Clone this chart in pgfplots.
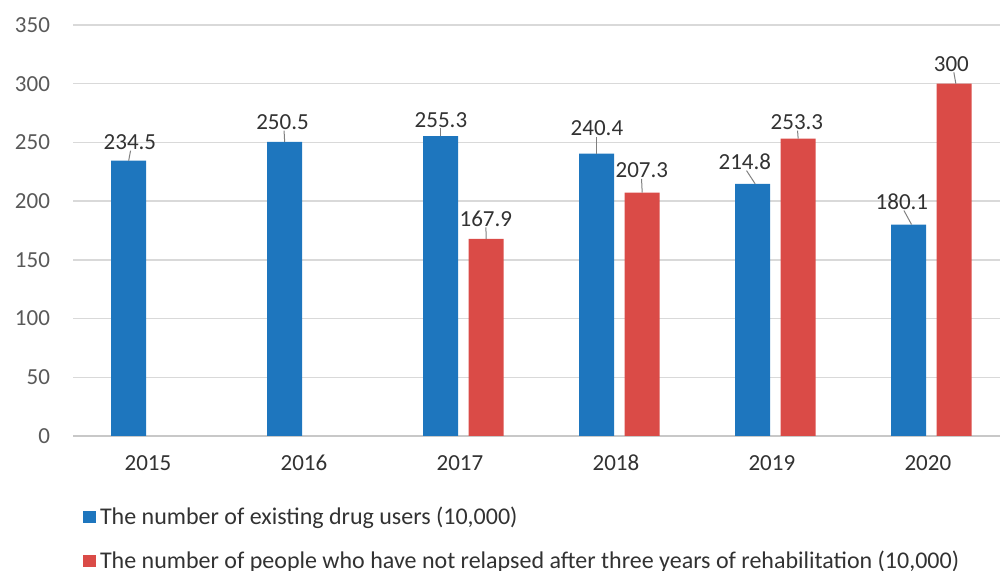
\documentclass[border=0pt]{standalone}
\usepackage{fontspec}
\setmainfont{Carlito}
\usepackage{pgfplots}
\usepackage{pgfplotstable}
\pgfplotsset{compat=1.18}
\definecolor{barblue}{RGB}{30,118,190}
\definecolor{barred}{RGB}{218,75,71}
\definecolor{gridgray}{RGB}{217,217,217}
\definecolor{axisgray}{RGB}{200,200,200}
\definecolor{ticklab}{RGB}{89,89,89}
\definecolor{lab}{RGB}{50,50,50}
\newcommand\f{\fontsize{11.5pt}{13.8pt}\selectfont}
\newcommand\fl{\fontsize{12pt}{14.4pt}\selectfont}

\pgfplotstableread{
x y
0 234.5
1 250.5
2 255.3
3 240.4
4 214.8
5 180.1
}\blue
\pgfplotstableread{
x y
2 167.9
3 207.3
4 253.3
5 300
}\red
\pgfplotstableread{
x y lab
-0.138 243.5 234.5
0.840 260.6 250.5
1.856 262.5 255.3
2.144 178.2 167.9
2.856 255.5 240.4
3.144 219.4 207.3
3.804 226.5 214.8
4.138 260.6 253.3
4.811 192.5 180.1
5.128 310.2 300
}\labels
\pgfplotstableread{
x y u v
-0.146 234.5 0.012 8.5
0.854 250.5 -0.004 9.6
1.854 255.3 0.000 6.7
2.146 167.9 -0.002 9.8
2.854 240.4 0.000 14.6
3.146 207.3 -0.004 11.6
3.870 214.8 -0.055 11.2
4.146 253.3 -0.004 6.8
4.873 180.1 -0.049 11.9
5.157 300.0 -0.013 9.7
}\leaders

\begin{document}
\begin{tikzpicture}
\useasboundingbox (-36.5pt,-67.5pt) rectangle (463.5pt,218pt);
\begin{axis}[
  at={(0,0)}, anchor=south west, scale only axis,
  width=463.5pt, height=205.5pt,
  xmin=-0.503, xmax=5.44, ymin=0, ymax=350,
  ytick={0,50,...,350},
  xtick={0,1,2,3,4,5},
  xticklabels={2015,2016,2017,2018,2019,2020},
  axis x line*=bottom, axis y line*=left,
  x axis line style={draw=axisgray, line width=0.7pt},
  y axis line style={draw=none},
  tick style={draw=none},
  ymajorgrids, grid style={draw=gridgray, line width=0.65pt},
  /pgf/number format/assume math mode=true,
  yticklabel style={font=\f, text=ticklab, xshift=-8pt},
  xticklabel style={font=\f, text=lab, yshift=-5.5pt, xshift=-1.75pt, text height=8pt, text depth=0pt},
  legend style={draw=none, fill=none, inner sep=0pt, font=\fl, text=lab,
    at={(axis description cs:0.0108,-0.162)}, anchor=north west, row sep=7.5pt},
  legend cell align=left,
  legend image code/.code={\fill[#1,draw=none] (0pt,-3.1pt) rectangle (6.3pt,3.1pt);},
]
\addplot[ybar, bar width=17.5pt, bar shift=-11.375pt, fill=barblue, draw=none] table[x=x,y=y] {\blue};
\addlegendentry{The number of existing drug users (10,000)}
\addplot[ybar, bar width=17.5pt, bar shift=11.375pt, fill=barred, draw=none] table[x=x,y=y] {\red};
\addlegendentry{The number of people who have not relapsed after three years of rehabilitation (10,000)}
\addplot[forget plot, quiver={u=\thisrow{u}, v=\thisrow{v}}, draw=gray, line width=0.5pt] table[x=x,y=y] {\leaders};
\addplot[forget plot, draw=none, mark=none, nodes near coords, point meta=explicit symbolic,
  nodes near coords style={anchor=south, inner sep=0pt, font=\f, text=lab}] table[x=x,y=y,meta=lab] {\labels};
\end{axis}
\end{tikzpicture}
\end{document}
